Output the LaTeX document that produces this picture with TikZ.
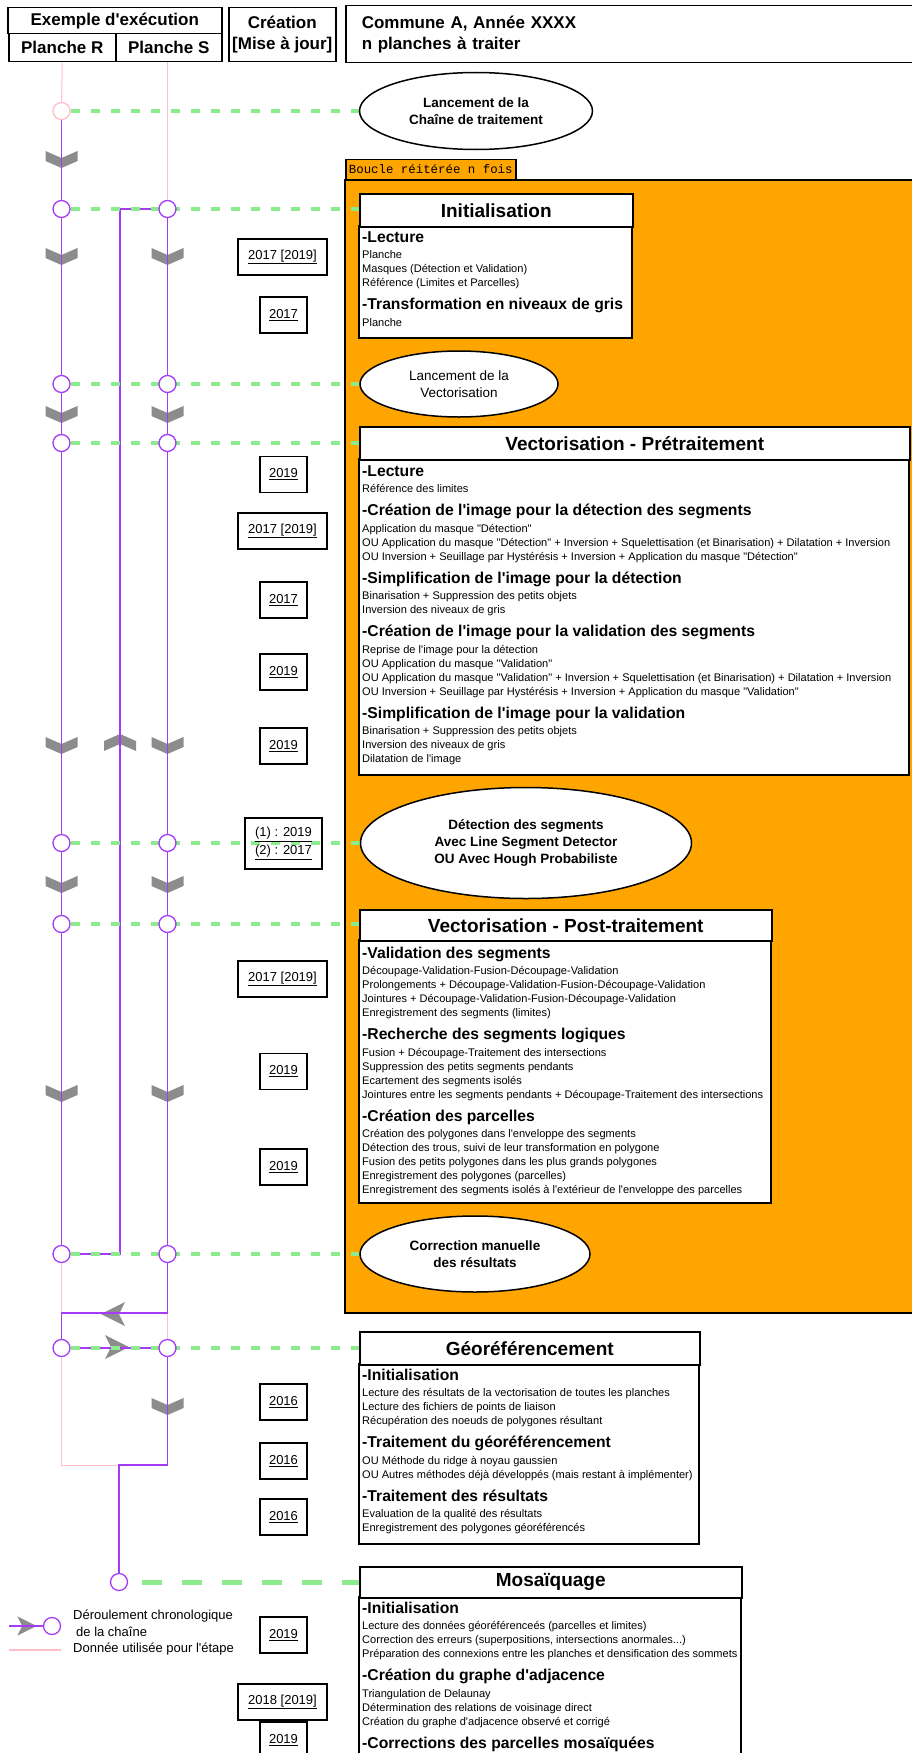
\documentclass[tikz,border=0pt]{standalone}
\usepackage{fontspec}
\setmainfont{Liberation Sans}[Ligatures=TeXOff]
\setmonofont{Liberation Mono}
\usetikzlibrary{positioning,shapes.geometric,backgrounds}

\definecolor{violetchaine}{RGB}{165,60,245}
\definecolor{rosedonnee}{RGB}{255,190,200}
\definecolor{vertlien}{RGB}{140,235,140}
\definecolor{grisfleche}{RGB}{140,140,140}
\definecolor{orangeboucle}{RGB}{255,165,0}

% rubrique et ligne de texte des cadres
\newcommand\rub[1]{\par\vspace{5pt}{\fontsize{15.7}{18}\selectfont\bfseries\rule{0pt}{13pt}-#1\par}\vspace{2.5pt}}
\newcommand\lig[1]{{\fontsize{11.05}{14}\selectfont #1\par}}

\begin{document}
\begin{tikzpicture}[x=1pt,y=-1pt,
    entete/.style={draw, line width=1.5pt, inner sep=0pt, anchor=north west, align=center, font=\fontsize{17}{21}\selectfont\bfseries},
    titre/.style={draw, line width=1.5pt, fill=white, anchor=north west, minimum height=33pt, inner sep=0pt, font=\fontsize{19}{22}\selectfont\bfseries},
    cadre/.style={draw, line width=1.5pt, fill=white},
    corps/.style={anchor=north west, inner sep=0pt},
    bulle/.style={ellipse, draw, line width=1.5pt, fill=white, inner sep=0pt, align=center, font=\fontsize{13.5}{17}\selectfont},
    bulle gras/.style={bulle, font=\fontsize{13.5}{17}\selectfont\bfseries},
    annee/.style={draw, line width=1.2pt, inner sep=0pt, minimum height=36pt, align=center, font=\fontsize{13}{18}\selectfont},
    rond/.style={circle, draw=violetchaine, line width=1.3pt, fill=white, minimum size=17pt, inner sep=0pt},
    chrono/.style={violetchaine, line width=1.3pt},
    donnee/.style={rosedonnee, line width=1pt},
    tiret/.style={vertlien, line width=4.5pt, dash pattern=on 9pt off 11pt},
    chevron/.pic={\fill[grisfleche] (-16,-7) -- (0,0) -- (16,-7) -- (16,3) -- (0,10) -- (-16,3) -- cycle;},
    pointe/.pic={\fill[grisfleche] (-12,0) -- (12,-12) -- (6,0) -- (12,12) -- cycle;}]
    \useasboundingbox (0,0) rectangle (911,1753);

    % En-tete
    \node[entete, minimum width=214pt, minimum height=26pt] (exemple) at (7,7) {Exemple d'exécution};
    \node[entete, minimum width=107pt, minimum height=28pt] (planR) at (8,33) {Planche R};
    \node[entete, minimum width=106pt, minimum height=28pt] (planS) at (115,33) {Planche S};
    \node[entete, minimum width=107pt, minimum height=54pt] (creation) at (228,7) {Création\\{[Mise à jour]}};
    \node[entete, minimum width=570pt, minimum height=57pt, align=left, text width=538pt, inner xsep=16pt] (commune) at (345,5) {Commune A, Année XXXX\\n planches à traiter};

    % Boucle
    \node[draw, line width=1.5pt, fill=orangeboucle, anchor=south west, minimum width=170pt, minimum height=20pt, inner sep=0pt, font=\fontsize{12.4}{14}\selectfont\ttfamily] (boucle) at (345,180) {Boucle réitérée n fois};

    % Ronds des planches
    \node[rond, draw=rosedonnee] (rR1) at (61.5,111) {};
    \foreach \n/\y in {2/209,3/384,4/443,5/843,6/924,7/1254,8/1348} {
        \node[rond] (rR\n) at (61.5,\y) {};
        \node[rond] (rS\n) at (167.5,\y) {};
    }
    \node[rond] (rM) at (119,1582) {};

    % Etapes
    \node[bulle gras, minimum width=233pt, minimum height=77pt] (lancement) at (476,111) {Lancement de la\\Chaîne de traitement};

    \draw[cadre] (359,226) rectangle (632,338);
    \node[titre, minimum width=273pt] (init) at (359,193) {Initialisation};
    \node[corps] (initc) at (362,224) {\begin{minipage}{560pt}\raggedright
        \rub{Lecture}
        \lig{Planche}
        \lig{Masques (Détection et Validation)}
        \lig{Référence (Limites et Parcelles)}
        \rub{Transformation en niveaux de gris}
        \lig{Planche}
    \end{minipage}};

    \node[bulle, minimum width=198pt, minimum height=66pt] (lancvect) at (459,384) {Lancement de la\\Vectorisation};

    \draw[cadre] (359,459) rectangle (909,775);
    \node[titre, minimum width=550pt] (pretrait) at (359,426) {Vectorisation - Prétraitement};
    \node[corps] (pretraitc) at (362,458) {\begin{minipage}{560pt}\raggedright
        \rub{Lecture}
        \lig{Référence des limites}
        \rub{Création de l'image pour la détection des segments}
        \lig{Application du masque "Détection"}
        \lig{OU Application du masque "Détection" + Inversion + Squelettisation (et Binarisation) + Dilatation + Inversion}
        \lig{OU Inversion + Seuillage par Hystérésis + Inversion + Application du masque "Détection"}
        \rub{Simplification de l'image pour la détection}
        \lig{Binarisation + Suppression des petits objets}
        \lig{Inversion des niveaux de gris}
        \rub{Création de l'image pour la validation des segments}
        \lig{Reprise de l'image pour la détection}
        \lig{OU Application du masque "Validation"}
        \lig{OU Application du masque "Validation" + Inversion + Squelettisation (et Binarisation) + Dilatation + Inversion}
        \lig{OU Inversion + Seuillage par Hystérésis + Inversion + Application du masque "Validation"}
        \rub{Simplification de l'image pour la validation}
        \lig{Binarisation + Suppression des petits objets}
        \lig{Inversion des niveaux de gris}
        \lig{Dilatation de l'image}
    \end{minipage}};

    \node[bulle gras, minimum width=331pt, minimum height=111pt] (detection) at (526,843) {Détection des segments\\Avec Line Segment Detector\\OU Avec Hough Probabiliste};

    \draw[cadre] (359,940) rectangle (771,1203);
    \node[titre, minimum width=412pt, minimum height=31pt] (posttrait) at (359,909) {Vectorisation - Post-traitement};
    \node[corps] (posttraitc) at (362,940) {\begin{minipage}{560pt}\raggedright
        \rub{Validation des segments}
        \lig{Découpage-Validation-Fusion-Découpage-Validation}
        \lig{Prolongements + Découpage-Validation-Fusion-Découpage-Validation}
        \lig{Jointures + Découpage-Validation-Fusion-Découpage-Validation}
        \lig{Enregistrement des segments (limites)}
        \rub{Recherche des segments logiques}
        \lig{Fusion + Découpage-Traitement des intersections}
        \lig{Suppression des petits segments pendants}
        \lig{Ecartement des segments isolés}
        \lig{Jointures entre les segments pendants + Découpage-Traitement des intersections}
        \rub{Création des parcelles}
        \lig{Création des polygones dans l'enveloppe des segments}
        \lig{Détection des trous, suivi de leur transformation en polygone}
        \lig{Fusion des petits polygones dans les plus grands polygones}
        \lig{Enregistrement des polygones (parcelles)}
        \lig{Enregistrement des segments isolés à l'extérieur de l'enveloppe des parcelles}
    \end{minipage}};

    \node[bulle gras, minimum width=230pt, minimum height=76pt] (correction) at (475,1254) {Correction manuelle\\des résultats};

    \draw[cadre] (359,1364) rectangle (699,1544);
    \node[titre, minimum width=340pt] (georef) at (359,1331) {Géoréférencement};
    \node[corps] (georefc) at (362,1362) {\begin{minipage}{560pt}\raggedright
        \rub{Initialisation}
        \lig{Lecture des résultats de la vectorisation de toutes les planches}
        \lig{Lecture des fichiers de points de liaison}
        \lig{Récupération des noeuds de polygones résultant}
        \rub{Traitement du géoréférencement}
        \lig{OU Méthode du ridge à noyau gaussien}
        \lig{OU Autres méthodes déjà développés (mais restant à implémenter)}
        \rub{Traitement des résultats}
        \lig{Evaluation de la qualité des résultats}
        \lig{Enregistrement des polygones géoréférencés}
    \end{minipage}};

    \draw[cadre] (359,1597) rectangle (741,1800);
    \node[titre, minimum width=382pt, minimum height=31pt] (mosaique) at (359,1566) {Mosaïquage};
    \node[corps] (mosaiquec) at (362,1595) {\begin{minipage}{560pt}\raggedright
        \rub{Initialisation}
        \lig{Lecture des données géoréférenceés (parcelles et limites)}
        \lig{Correction des erreurs (superpositions, intersections anormales...)}
        \lig{Préparation des connexions entre les planches et densification des sommets}
        \rub{Création du graphe d'adjacence}
        \lig{Triangulation de Delaunay}
        \lig{Détermination des relations de voisinage direct}
        \lig{Création du graphe d'adjacence observé et corrigé}
        \rub{Corrections des parcelles mosaïquées}
    \end{minipage}};

    % Annees de creation
    \node[annee, minimum width=89pt] (an1) at (282.5,257) {\underline{2017 [2019]}};
    \node[annee, minimum width=89pt] (an4) at (282.5,531) {\underline{2017 [2019]}};
    \node[annee, minimum width=77pt, minimum height=51pt] (an8) at (283.5,843.5) {\underline{(1) : 2019}\\\underline{(2) : 2017}};
    \node[annee, minimum width=89pt] (an9) at (282.5,979) {\underline{2017 [2019]}};
    \node[annee, minimum width=89pt] (an16) at (282.5,1702) {\underline{2018 [2019]}};
    \foreach \n/\y/\t in {2/315/2017,3/474.5/2019,5/600/2017,6/672/2019,7/746/2019,10/1071.5/2019,11/1167/2019,12/1402/2016,13/1461/2016,14/1517/2016,15/1635/2019,17/1740/2019}
        \node[annee, minimum width=47pt] (an\n) at (283.5,\y) {\underline{\t}};

    % Points de passage
    \coordinate (cS) at (167.5,1313);
    \coordinate (cR) at (61.5,1313);
    \coordinate (jR) at (61.5,1465);
    \coordinate (jM) at (119,1465);
    \coordinate (jS) at (167.5,1465);
    \coordinate (bB) at (120,1254);
    \coordinate (bH) at (120,209);

    \begin{scope}[on background layer]
        \draw[line width=1.5pt, fill=orangeboucle] (915,180) -- (345,180) -- (345,1313) -- (915,1313);

        % Donnees utilisees
        \draw[donnee] (planR.south) -- (rR1);
        \draw[donnee] (rS2 |- planS.south) -- (rS2);
        \draw[donnee] (rR7) -- (rR8);
        \draw[donnee] (cS) -- (rS8);
        \draw[donnee] (rR8) -- (jR) -- (jM);

        % Fleches
        \foreach \y in {255,413,744,883,1092} {
            \pic at (61.5,\y) {chevron};
            \pic at (167.5,\y) {chevron};
        }
        \pic at (61.5,158) {chevron};
        \pic at (167.5,1405) {chevron};
        \pic[rotate=180] at (120,744) {chevron};
        \pic at (113,1314) {pointe};
        \pic[rotate=180] at (117,1347) {pointe};

        % Deroulement
        \draw[chrono] (rR1) -- (rR2) -- (rR3) -- (rR4) -- (rR5) -- (rR6) -- (rR7);
        \draw[chrono] (rS2) -- (rS3) -- (rS4) -- (rS5) -- (rS6) -- (rS7);
        \draw[chrono] (rR7) -- (bB) -- (bH) -- (rS2);
        \draw[chrono] (rS7) -- (cS) -- (cR) -- (rR8);
        \draw[chrono] (rR8) -- (rS8);
        \draw[chrono] (rS8) -- (jS) -- (jM) -- (rM);

        % Liens vers les etapes
        \draw[tiret] (rR1) -- (lancement);
        \draw[tiret] (rR2) -- (rR2 -| init.west);
        \draw[tiret] (rR3) -- (lancvect);
        \draw[tiret] (rR4) -- (rR4 -| pretrait.west);
        \draw[tiret] (rR5) -- (detection);
        \draw[tiret] (rR6) -- (rR6 -| posttrait.west);
        \draw[tiret] (rR7) -- (correction);
        \draw[tiret] (rR8) -- (rR8 -| georef.west);
        \draw[tiret, line width=5pt, dash pattern=on 20pt off 20pt, dash phase=26pt] (rM) -- (rM -| mosaique.west);
    \end{scope}

    % Legende
    \coordinate (legdeb) at (9,1626);
    \pic[rotate=180, scale=0.8] at (27,1626) {pointe};
    \node[rond] (legende) at (52,1626) {};
    \draw[chrono] (legdeb) -- (legende);
    \coordinate (legr1) at (9,1650);
    \coordinate (legr2) at (61,1650);
    \draw[donnee, line width=2pt] (legr1) -- (legr2);
    \node[anchor=north west, align=left, inner sep=0pt, font=\fontsize{13}{16.5}\selectfont] (legtexte) at (73,1610) {Déroulement chronologique\\\hspace{3pt}de la chaîne\\Donnée utilisée pour l'étape};
\end{tikzpicture}
\end{document}
